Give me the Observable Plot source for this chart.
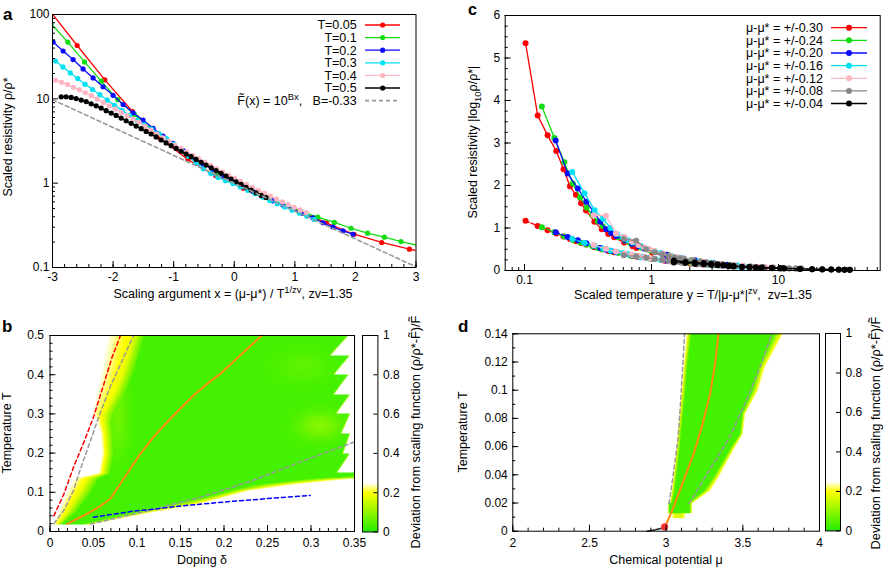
<!DOCTYPE html>
<html><head><meta charset="utf-8">
<script src="https://cdn.jsdelivr.net/npm/d3@7"></script>
<script src="https://cdn.jsdelivr.net/npm/@observablehq/plot@0.6"></script>
<style>
html,body{margin:0;padding:0;background:#fff;}
#fig{position:relative;width:886px;height:569px;overflow:hidden;background:#fff;}
</style></head>
<body><div id="fig"></div>
<script>
// ---------------- Panel a data: rho/rho* vs scaling argument x ----------------
const aX005 = [-3.05,-2.593,-2.136,-1.679,-1.222,-0.765,-0.308,0.149,0.606,1.063,1.52,1.977,2.434,2.891,3.348];
const aY005 = [112,42.9,16.8,7.08,3.39,1.91,1.23,0.871,0.631,0.473,0.339,0.248,0.198,0.165,0.141];
const aX01 = [-3.022,-2.747,-2.472,-2.197,-1.922,-1.647,-1.372,-1.097,-0.822,-0.547,-0.272,0.003,0.278,0.553,0.828,1.103,1.378,1.653,1.928,2.203,2.478,2.753,3.028];
const aY01 = [77.6,47.1,27.4,16.2,9.77,6.53,4.47,3.16,2.34,1.78,1.35,1.05,0.832,0.668,0.55,0.462,0.395,0.342,0.292,0.255,0.229,0.203,0.183];
const aX02 = [-2.99,-2.825,-2.66,-2.495,-2.33,-2.165,-2.0,-1.835,-1.67,-1.505,-1.34,-1.175,-1.01,-0.845,-0.68,-0.515,-0.35,-0.185,-0.02,0.145,0.31,0.475,0.64,0.805,0.97,1.135,1.3,1.465,1.63,1.795,1.96];
const aY02 = [47.1,36.9,29.2,22.6,17.7,13.9,11.0,8.57,6.84,5.60,4.47,3.62,2.96,2.43,2.03,1.69,1.45,1.23,1.05,0.912,0.794,0.692,0.617,0.55,0.49,0.437,0.389,0.339,0.302,0.272,0.248];
const aX03 = [-2.95,-2.828,-2.706,-2.584,-2.462,-2.34,-2.218,-2.096,-1.974,-1.852,-1.73,-1.608,-1.486,-1.364,-1.242,-1.12,-0.998,-0.876,-0.754,-0.632,-0.51,-0.388,-0.266,-0.144,-0.022,0.1,0.222,0.344,0.466,0.588,0.71,0.832,0.954,1.076,1.198,1.32];
const aY03 = [28.1,23.9,20.3,17.4,14.9,12.9,11.2,9.66,8.36,7.29,6.37,5.61,4.93,4.39,3.87,3.37,2.90,2.45,2.07,1.74,1.48,1.30,1.17,1.07,0.989,0.902,0.822,0.750,0.684,0.624,0.571,0.522,0.479,0.440,0.405,0.372];
const aX04 = [-2.95,-2.852,-2.753,-2.655,-2.556,-2.458,-2.359,-2.261,-2.162,-2.064,-1.965,-1.867,-1.768,-1.67,-1.571,-1.473,-1.374,-1.276,-1.177,-1.079,-0.98,-0.882,-0.783,-0.685,-0.586,-0.488,-0.389,-0.291,-0.192,-0.094,0.005,0.104,0.202,0.301,0.399,0.498,0.596,0.695,0.793,0.892,0.99,1.089,1.187];
const aY04 = [16.6,15.7,14.8,13.7,12.8,11.8,10.9,9.91,9.06,8.28,7.55,6.90,6.31,5.75,5.26,4.72,4.25,3.82,3.44,3.12,2.83,2.58,2.34,2.14,1.95,1.78,1.63,1.49,1.36,1.25,1.15,1.05,0.968,0.891,0.822,0.759,0.702,0.649,0.601,0.557,0.518,0.481,0.448];
const aX05 = [-2.857,-2.775,-2.692,-2.61,-2.527,-2.445,-2.362,-2.28,-2.197,-2.115,-2.032,-1.95,-1.867,-1.785,-1.702,-1.62,-1.537,-1.455,-1.372,-1.29,-1.207,-1.125,-1.042,-0.96,-0.877,-0.795,-0.712,-0.63,-0.547,-0.465,-0.382,-0.3,-0.217,-0.135,-0.052,0.03,0.113,0.195,0.278,0.36,0.443,0.525];
const aY05 = [10.57,10.57,10.40,10.07,9.66,9.27,8.73,8.26,7.76,7.23,6.78,6.35,5.92,5.50,5.12,4.75,4.43,4.11,3.83,3.53,3.25,3.0,2.78,2.58,2.39,2.21,2.06,1.91,1.77,1.64,1.52,1.41,1.31,1.21,1.12,1.04,0.966,0.895,0.83,0.77,0.715,0.676];
const aFitX = [-3, 3];          // F~(x) = 10^(Bx), B = -0.33
const aFitY = [9.77, 0.102];
const aNames = ["T=0.05","T=0.1","T=0.2","T=0.3","T=0.4","T=0.5"];

// ---------------- Panel c data: |log10 rho/rho*| vs scaled temperature y ----------------
const cNames = ["μ-μ* = +/-0.30","μ-μ* = +/-0.24","μ-μ* = +/-0.20","μ-μ* = +/-0.16","μ-μ* = +/-0.12","μ-μ* = +/-0.08","μ-μ* = +/-0.04"];
const cX030 = [0.102,0.127,0.152,0.178,0.203,0.228,0.254,0.279,0.305,0.355,0.406,0.457,0.508,0.609,0.711,0.761,1.015,1.269,1.523,1.777,2.03,2.284,2.538];
const cUp030 = [5.35,3.65,3.18,2.81,2.38,1.98,1.78,1.58,1.41,1.15,0.97,0.86,0.78,0.66,0.57,0.53,0.42,0.34,0.29,0.25,0.22,0.2,0.18];
const cLo030 = [1.17,1.05,0.95,0.87,0.8,0.74,0.69,0.65,0.61,0.55,0.5,0.46,0.43,0.38,0.34,0.33,0.27,0.23,0.2,0.18,0.16,0.15,0.14];
const cX024 = [0.137,0.172,0.206,0.240,0.275,0.309,0.343,0.378,0.412,0.481,0.549,0.618,0.687,0.824,0.962,1.03,1.374,1.717,2.06,2.404,2.747,3.091,3.434];
const cUp024 = [3.86,3.12,2.55,2.05,1.72,1.48,1.3,1.16,1.05,0.89,0.78,0.7,0.63,0.54,0.48,0.45,0.36,0.29,0.25,0.21,0.19,0.17,0.155];
const cLo024 = [1.02,0.9,0.8,0.72,0.66,0.61,0.57,0.53,0.5,0.45,0.41,0.38,0.35,0.31,0.28,0.27,0.22,0.19,0.165,0.15,0.135,0.125,0.115];
const cX020 = [0.176,0.219,0.263,0.307,0.351,0.395,0.439,0.483,0.527,0.615,0.702,0.790,0.878,1.054,1.229,1.317,1.756,2.195,2.634,3.073,3.512,3.951,4.39];
const cUp020 = [3.06,2.28,1.93,1.62,1.38,1.15,0.97,0.88,0.81,0.71,0.63,0.57,0.52,0.45,0.39,0.37,0.29,0.24,0.2,0.17,0.15,0.135,0.12];
const cLo020 = [0.9,0.79,0.71,0.64,0.58,0.53,0.49,0.46,0.43,0.39,0.36,0.33,0.31,0.27,0.245,0.235,0.19,0.165,0.145,0.13,0.12,0.11,0.1];
const cX016 = [0.2375,0.297,0.356,0.416,0.475,0.534,0.594,0.653,0.713,0.831,0.950,1.069,1.188,1.425,1.663,1.781,2.375,2.969,3.563,4.157,4.751,5.344,5.938];
const cUp016 = [2.32,1.82,1.42,1.22,1.0,0.86,0.78,0.71,0.66,0.57,0.5,0.45,0.41,0.35,0.3,0.28,0.22,0.18,0.15,0.13,0.115,0.1,0.095];
const cLo016 = [0.75,0.65,0.58,0.52,0.47,0.44,0.41,0.38,0.36,0.32,0.29,0.27,0.25,0.22,0.2,0.19,0.155,0.13,0.115,0.1,0.09,0.085,0.08];
const cX012 = [0.350,0.438,0.525,0.613,0.700,0.788,0.876,0.963,1.051,1.226,1.401,1.576,1.751,2.102,2.452,2.627,3.503,4.378,5.254,6.130,7.005,7.881,8.757];
const cUp012 = [1.3,1.29,0.87,0.79,0.68,0.6,0.55,0.5,0.46,0.4,0.35,0.32,0.29,0.25,0.22,0.2,0.16,0.13,0.11,0.095,0.085,0.075,0.07];
const cLo012 = [0.6,0.51,0.45,0.4,0.37,0.34,0.31,0.29,0.27,0.245,0.22,0.2,0.185,0.165,0.145,0.14,0.115,0.1,0.085,0.075,0.07,0.065,0.06];
const cX008 = [0.606,0.758,0.909,1.061,1.212,1.364,1.515,1.667,1.818,2.121,2.424,2.727,3.03,3.636,4.242,4.545,6.061,7.576,9.091,10.61,12.12,13.64,15.15];
const cUp008 = [0.74,0.7,0.5,0.43,0.38,0.34,0.31,0.29,0.27,0.24,0.21,0.19,0.17,0.15,0.13,0.12,0.095,0.08,0.07,0.06,0.055,0.05,0.045];
const cLo008 = [0.36,0.33,0.3,0.27,0.25,0.23,0.21,0.2,0.19,0.17,0.155,0.14,0.13,0.115,0.1,0.095,0.08,0.07,0.06,0.055,0.05,0.045,0.04];
const cX004 = [1.5,1.85,2.2,2.58,2.95,3.32,3.69,4.06,4.43,5.16,5.9,6.64,7.37,8.85,10.3,11.05,14.7,18.4,22.1,26.0,29.8,33.1,36.4];
const cUp004 = [0.235,0.2,0.188,0.175,0.16,0.145,0.13,0.115,0.105,0.09,0.08,0.075,0.07,0.065,0.06,0.055,0.04,0.032,0.028,0.025,0.022,0.02,0.018];
const cLo004 = [0.19,0.175,0.16,0.148,0.135,0.125,0.115,0.105,0.095,0.085,0.075,0.068,0.062,0.055,0.05,0.048,0.035,0.03,0.026,0.022,0.02,0.018,0.016];

// ---------------- Panel b data: deviation map over doping / temperature ----------------
// left edge of coloured region per temperature row: L0 (dev 0.25), Lm (dev 0.18), L1 (dev 0.05)
const bLT = [0.018,0.05,0.08,0.10,0.12,0.136,0.148,0.2,0.25,0.28,0.3,0.35,0.4,0.45,0.5];
const bL0 = [0.004,0.010,0.015,0.019,0.024,0.028,0.056,0.060,0.058,0.054,0.049,0.053,0.058,0.062,0.066];
const bLm = [0.009,0.020,0.028,0.034,0.040,0.044,0.061,0.065,0.064,0.062,0.062,0.074,0.083,0.090,0.096];
const bL1 = [0.013,0.030,0.040,0.047,0.052,0.056,0.069,0.073,0.072,0.071,0.074,0.086,0.095,0.102,0.108];
// right edge (dev 0.25), including the saw-tooth above T=0.15
const bR0T = [0.018,0.048,0.071,0.105,0.122,0.134,0.135,0.1499,0.1501,0.1999,0.2001,0.2499,0.2501,0.2999,0.3001,0.3499,0.3501,0.3999,0.4001,0.4499,0.4501,0.5];
const bR0D = [0.045,0.115,0.173,0.23,0.2875,0.344,0.37,0.37,0.330,0.345,0.337,0.345,0.335,0.345,0.329,0.345,0.3265,0.343,0.3265,0.345,0.3227,0.343];
// right edge of the green part (dev 0.05) below T=0.15
const bR1T = [0.018,0.02,0.058,0.085,0.118,0.133,0.14,0.141,0.1499];
const bR1D = [0.036,0.04,0.115,0.173,0.23,0.2875,0.344,0.37,0.37];
const bInner = 0.03;
// lighter (yellow-green) patches [delta, T, width delta, width T, extra deviation]
const bPatch = [[0.31,0.27,0.025,0.035,0.06],[0.078,0.29,0.012,0.1,0.04],[0.29,0.42,0.03,0.04,0.025]];
const bRedD = [0.0045,0.016,0.027,0.039,0.050,0.062,0.0714,0.081];
const bRedT = [0.04,0.096,0.164,0.228,0.292,0.377,0.445,0.5];
const bGrayLD = [0.0044,0.016,0.027,0.035,0.0445,0.056,0.069,0.083,0.096];
const bGrayLT = [0.02,0.054,0.105,0.16,0.219,0.292,0.368,0.436,0.5];
const bGrayRD = [0.0465,0.115,0.173,0.23,0.2875,0.3494,0.354];
const bGrayRT = [0.019,0.054,0.0875,0.1276,0.177,0.228,0.2305];
const bOrD = [0.0197,0.0388,0.056,0.0694,0.0809,0.0924,0.1038,0.119,0.1345,0.1497,0.165,0.1804,0.1956,0.22,0.2435];
const bOrT = [0.0196,0.0408,0.062,0.0834,0.1217,0.16,0.198,0.2406,0.2788,0.313,0.347,0.376,0.402,0.452,0.5];
const bBlueD = [0.05,0.096,0.1153,0.154,0.207,0.268,0.299];
const bBlueT = [0.0365,0.052,0.056,0.066,0.0765,0.087,0.092];

// ---------------- Panel d data: deviation map over chemical potential / temperature ----------------
const dT  = [0.009,0.0124,0.0126,0.0195,0.0206,0.0289,0.0395,0.050,0.0596,0.069,0.0833,0.0998,0.1163,0.14];
const dL0 = [3.035,3.035,3.012,3.012,3.024,3.036,3.047,3.058,3.067,3.073,3.086,3.099,3.112,3.132];
const dL1 = [3.06,3.06,3.02,3.02,3.04,3.056,3.069,3.08,3.09,3.099,3.112,3.127,3.138,3.167];
const dR1 = [3.10,3.10,3.152,3.152,3.15,3.245,3.31,3.37,3.42,3.48,3.493,3.558,3.60,3.70];
const dR0 = [3.125,3.125,3.17,3.17,3.18,3.29,3.35,3.40,3.45,3.50,3.515,3.60,3.645,3.765];
const dIn = [0.17,0.17,0.03,0.03,0.03,0.03,0.03,0.03,0.03,0.03,0.03,0.03,0.03,0.03];
const dOrM = [2.99,3.006,3.049,3.114,3.18,3.232,3.287,3.319,3.341];
const dOrT = [0.003,0.0064,0.0172,0.036,0.055,0.0738,0.0974,0.1187,0.14];
const dGrayLM = [3.019,3.05,3.078,3.095,3.108,3.12];
const dGrayLT = [0.0196,0.043,0.066,0.093,0.1165,0.14];
const dGrayRM = [3.15,3.28,3.41,3.525,3.613,3.689];
const dGrayRT = [0.0196,0.043,0.066,0.093,0.1165,0.14];
const dBlackM = [2.876,2.93,2.984];
const dBlackT = [0.0,0.001,0.0024];
const dPointM = [2.99], dPointT = [0.003];

// colour bar ticks
const cbTicks = [0,0.2,0.4,0.6,0.8,1];

// ---------------- helpers ----------------
const FONT = '"Liberation Sans", Arial, Helvetica, sans-serif';
const fig = document.getElementById("fig");
const COL = {red:"#ff0000", green:"#11dd11", blue:"#0a0aff", cyan:"#00e1f5", pink:"#ffb6c1", black:"#000000", gray:"#888888", dash:"#999999", orange:"#ff8a10"};
const aColors = [COL.red, COL.green, COL.blue, COL.cyan, COL.pink, COL.black];
const cColors = [COL.red, COL.green, COL.blue, COL.cyan, COL.pink, COL.gray, COL.black];
function place(node, left, top){ node.style.position="absolute"; node.style.left=left+"px"; node.style.top=top+"px"; fig.appendChild(node); }
function zip(xs, ys){ return xs.map((x,i)=>[x, ys[i]]); }
function interp(xs, ys, x){ const n=xs.length; if (x<=xs[0]) return ys[0]; if (x>=xs[n-1]) return ys[n-1]; let i=1; while (xs[i]<x) i++; const t=(x-xs[i-1])/(xs[i]-xs[i-1]); return ys[i-1]+t*(ys[i]-ys[i-1]); }
const pStyle = {fontFamily: FONT, fontSize: "12px", background: "transparent", overflow: "visible", color: "#000"};
const colorScale = {type:"linear", domain:[0,0.2,0.25,1], range:["#22ee00","#ffff00","#ffffff","#ffffff"], interpolate:"rgb", clamp:true};

function valB(d, T){
  if (T < 0.017 || T > 0.5) return 1;
  const L0 = interp(bLT,bL0,T), Lm = interp(bLT,bLm,T), L1 = interp(bLT,bL1,T);
  const R0 = interp(bR0T,bR0D,T);
  const R1 = T > 0.15 ? R0 - 0.001 : Math.min(interp(bR1T,bR1D,T), R0 - 0.001);
  if (d < L0 || d > R0) return 1;
  if (d < Lm) return 0.25 - 0.07*(d-L0)/(Lm-L0);
  if (d < L1) return 0.18 - 0.13*(d-Lm)/(L1-Lm);
  let v = bInner;
  for (const [pc,tc,sd,st,amp] of bPatch) {
    const u = (d-pc)/sd, w = (T-tc)/st;
    v += amp*Math.exp(-(u*u) - (w*w));
  }
  if (d > R1) v = v + (0.25 - v)*(d-R1)/(R0-R1);
  return v;
}
function valD(m, T){
  if (T < dT[0] || T > 0.14) return 1;
  const L0 = interp(dT,dL0,T), L1 = interp(dT,dL1,T), R1 = interp(dT,dR1,T), R0 = interp(dT,dR0,T), vin = interp(dT,dIn,T);
  if (m < L0 || m > R0) return 1;
  if (m < L1) return 0.25 - (0.25-vin)*(m-L0)/(L1-L0);
  if (m > R1) return vin + (0.25-vin)*(m-R1)/(R0-R1);
  return vin;
}

// ---------------- Panel a ----------------
{
  const ml=52, mr=14.5, mt=14, mb=33, w=430, h=300, fw=w-ml-mr, fh=h-mt-mb;
  const series = [[aX005,aY005],[aX01,aY01],[aX02,aY02],[aX03,aY03],[aX04,aY04],[aX05,aY05]];
  const yMinor = [0.2,0.3,0.4,0.5,0.6,0.7,0.8,0.9,2,3,4,5,6,7,8,9,20,30,40,50,60,70,80,90];
  const marks = [];
  series.forEach(([xs,ys],i)=>{
    marks.push(Plot.line(zip(xs,ys), {stroke:aColors[i], strokeWidth:1.3, clip:true}));
    marks.push(Plot.dot(zip(xs,ys), {fill:aColors[i], r:2.6, clip:true}));
  });
  marks.push(Plot.line(zip(aFitX,aFitY), {stroke:COL.dash, strokeWidth:1.6, strokeDasharray:"4,3"}));
  marks.push(Plot.tickX(d3.range(-3,3.001,0.2).map(v=>+v.toFixed(1)), {insetTop:fh-3, stroke:"#000"}));
  marks.push(Plot.tickX([-3,-2,-1,0,1,2,3], {insetTop:fh-6, stroke:"#000"}));
  marks.push(Plot.tickY(yMinor, {insetRight:fw-3, stroke:"#000"}));
  marks.push(Plot.tickY([0.1,1,10,100], {insetRight:fw-6, stroke:"#000"}));
  marks.push(Plot.axisX({ticks:[-3,-2,-1,0,1,2,3], tickSize:0, tickPadding:5, tickFormat:d=>String(d), label:null}));
  marks.push(Plot.axisY({ticks:[0.1,1,10,100], tickSize:0, tickPadding:3, tickFormat:d=>String(d), label:null}));
  marks.push(Plot.frame({stroke:"#000"}));
  const p = Plot.plot({width:w, height:h, marginLeft:ml, marginRight:mr, marginTop:mt, marginBottom:mb, style:pStyle,
    x:{domain:[-3,3]}, y:{type:"log", domain:[0.1,100]}, marks});
  place(p, 0, 0);
}

// ---------------- Panel c ----------------
{
  const ml=61.7, mr=6.3, mt=15, mb=30, w=443, h=300, fw=w-ml-mr, fh=h-mt-mb;
  const series = [[cX030,cUp030,cLo030],[cX024,cUp024,cLo024],[cX020,cUp020,cLo020],[cX016,cUp016,cLo016],[cX012,cUp012,cLo012],[cX008,cUp008,cLo008],[cX004,cUp004,cLo004]];
  const xMinor = [0.08,0.09,0.2,0.3,0.4,0.5,0.6,0.7,0.8,0.9,2,3,4,5,6,7,8,9,20,30,40,50,60];
  const marks = [];
  series.forEach(([xs,up,lo],i)=>{
    marks.push(Plot.line(zip(xs,lo), {stroke:cColors[i], strokeWidth:1.3, strokeDasharray:"4,2"}));
    marks.push(Plot.dot(zip(xs,lo), {fill:cColors[i], r:3}));
    marks.push(Plot.line(zip(xs,up), {stroke:cColors[i], strokeWidth:1.3}));
    marks.push(Plot.dot(zip(xs,up), {fill:cColors[i], r:3}));
  });
  marks.push(Plot.tickX(xMinor, {insetTop:fh-3, stroke:"#000"}));
  marks.push(Plot.tickX([0.1,1,10], {insetTop:fh-6, stroke:"#000"}));
  marks.push(Plot.tickY(d3.range(0,6.001,0.25), {insetRight:fw-3, stroke:"#000"}));
  marks.push(Plot.tickY([0,1,2,3,4,5,6], {insetRight:fw-6, stroke:"#000"}));
  marks.push(Plot.axisX({ticks:[0.1,1,10], tickSize:0, tickPadding:5, tickFormat:d=>String(d), label:null}));
  marks.push(Plot.axisY({ticks:[0,1,2,3,4,5,6], tickSize:0, tickPadding:5, tickFormat:d=>String(d), label:null}));
  marks.push(Plot.frame({stroke:"#000"}));
  const p = Plot.plot({width:w, height:h, marginLeft:ml, marginRight:mr, marginTop:mt, marginBottom:mb, style:pStyle,
    x:{type:"log", domain:[0.0705,63.2]}, y:{domain:[0,6]}, marks});
  place(p, 443, 0);
}

// ---------------- colour bar ----------------
function colorbar(left, top, fw, fh){
  const mr=34, mt=6, mb=8;
  const p = Plot.plot({width:fw+mr, height:fh+mt+mb, marginLeft:0, marginRight:mr, marginTop:mt, marginBottom:mb, style:pStyle,
    x:{domain:[0,1], axis:null}, y:{domain:[0,1]}, color:colorScale,
    marks:[
      Plot.raster({fill:(x,y)=>y, x1:0, x2:1, y1:0, y2:1}),
      Plot.tickY(cbTicks, {insetLeft:fw-4, stroke:"#000"}),
      Plot.axisY({anchor:"right", ticks:cbTicks, tickSize:0, tickPadding:5, tickFormat:d=>String(d), label:null}),
      Plot.frame({stroke:"#000"})
    ]});
  place(p, left, top-mt);
}

// ---------------- Panel b ----------------
{
  const ml=49.5, mr=89, mt=35, mb=38, w=443, h=269, fw=w-ml-mr, fh=h-mt-mb;
  const dash = {strokeWidth:1.5, strokeDasharray:"4,3"};
  const p = Plot.plot({width:w, height:h, marginLeft:ml, marginRight:mr, marginTop:mt, marginBottom:mb, style:pStyle,
    x:{domain:[0,0.35]}, y:{domain:[0,0.5]}, color:colorScale,
    marks:[
      Plot.raster({fill:valB, x1:0, x2:0.35, y1:0, y2:0.5}),
      Plot.line(zip(bGrayLD,bGrayLT), {stroke:COL.dash, ...dash}),
      Plot.line(zip(bGrayRD,bGrayRT), {stroke:COL.dash, ...dash, clip:true}),
      Plot.line(zip(bRedD,bRedT), {stroke:"#ff0000", ...dash}),
      Plot.line(zip(bBlueD,bBlueT), {stroke:"#0000ff", ...dash}),
      Plot.line(zip(bOrD,bOrT), {stroke:COL.orange, strokeWidth:2}),
      Plot.tickX(d3.range(0,0.3501,0.01).map(v=>+v.toFixed(2)), {insetTop:fh-3, stroke:"#000"}),
      Plot.tickX([0,0.05,0.1,0.15,0.2,0.25,0.3,0.35], {insetTop:fh-6, stroke:"#000"}),
      Plot.tickY(d3.range(0,0.5001,0.02).map(v=>+v.toFixed(2)), {insetRight:fw-3, stroke:"#000"}),
      Plot.tickY([0,0.1,0.2,0.3,0.4,0.5], {insetRight:fw-6, stroke:"#000"}),
      Plot.axisX({ticks:[0,0.05,0.1,0.15,0.2,0.25,0.3,0.35], tickSize:0, tickPadding:7, tickFormat:d=>String(d), label:null}),
      Plot.axisY({ticks:[0,0.1,0.2,0.3,0.4,0.5], tickSize:0, tickPadding:6, tickFormat:d=>String(d), label:null}),
      Plot.frame({stroke:"#000"})
    ]});
  place(p, 0, 300);
  colorbar(362.3, 335, 15.4, 196.5);
}

// ---------------- Panel d ----------------
{
  const ml=69.3, mr=67, mt=33.3, mb=38.3, w=443, h=269, fw=w-ml-mr, fh=h-mt-mb;
  const dash = {strokeWidth:1.5, strokeDasharray:"4,3"};
  const p = Plot.plot({width:w, height:h, marginLeft:ml, marginRight:mr, marginTop:mt, marginBottom:mb, style:pStyle,
    x:{domain:[2,4]}, y:{domain:[0,0.14]}, color:colorScale,
    marks:[
      Plot.raster({fill:valD, x1:2, x2:4, y1:0, y2:0.14}),
      Plot.line(zip(dGrayLM,dGrayLT), {stroke:COL.dash, ...dash}),
      Plot.line(zip(dGrayRM,dGrayRT), {stroke:COL.dash, ...dash}),
      Plot.line(zip(dBlackM,dBlackT), {stroke:"#222", strokeWidth:1.6}),
      Plot.line(zip(dOrM,dOrT), {stroke:COL.orange, strokeWidth:2}),
      Plot.dot(zip(dPointM,dPointT), {fill:"#ff3333", r:3.6}),
      Plot.tickX(d3.range(2,4.001,0.1).map(v=>+v.toFixed(1)), {insetTop:fh-3, stroke:"#000"}),
      Plot.tickX([2,2.5,3,3.5,4], {insetTop:fh-6, stroke:"#000"}),
      Plot.tickY(d3.range(0,0.1401,0.01).map(v=>+v.toFixed(2)), {insetRight:fw-3, stroke:"#000"}),
      Plot.tickY([0,0.02,0.04,0.06,0.08,0.1,0.12,0.14], {insetRight:fw-6, stroke:"#000"}),
      Plot.axisX({ticks:[2,2.5,3,3.5,4], tickSize:0, tickPadding:7, tickFormat:d=>String(d), label:null}),
      Plot.axisY({ticks:[0,0.02,0.04,0.06,0.08,0.1,0.12,0.14], tickSize:0, tickPadding:5, tickFormat:d=>String(d), label:null}),
      Plot.frame({stroke:"#000"})
    ]});
  place(p, 443, 300);
  colorbar(825.3, 333.3, 15, 197.4);
}

// ---------------- overlay: titles, labels, legends ----------------
const ov = d3.create("svg").attr("width",886).attr("height",569)
  .style("position","absolute").style("left","0px").style("top","0px").style("pointer-events","none")
  .style("font-family",FONT).style("overflow","visible");
function text(parts, x, y, o={}){
  const size = o.size || 12;
  const t = ov.append("text").attr("x",x).attr("y",y).attr("font-size",size)
    .attr("text-anchor",o.anchor||"start").attr("fill","#000").style("white-space","pre");
  if (o.weight) t.attr("font-weight",o.weight);
  if (o.rotate) t.attr("transform",`rotate(${o.rotate},${x},${y})`);
  let shift = 0;
  for (const p of parts){
    const [s,k] = Array.isArray(p) ? p : [p];
    const target = k==="sup" ? -0.4*size : k==="sub" ? 0.3*size : 0;
    const ts = t.append("tspan").text(s).attr("dy", target-shift);
    if (k) ts.attr("font-size", size*0.75);
    shift = target;
  }
}
// panel letters
text(["a"], 3, 20, {size:17, weight:"bold"});
text(["c"], 468, 15, {size:16, weight:"bold"});
text(["b"], 2, 332, {size:17, weight:"bold"});
text(["d"], 458, 332, {size:17, weight:"bold"});
// axis titles
text(["Scaled resistivity ρ/ρ*"], 12, 137, {anchor:"middle", rotate:-90, size:12.5});
text(["Scaling argument x = (μ-μ*) / T",["1/zv","sup"],", zv=1.35"], 233, 298, {anchor:"middle", size:12.5});
text(["Scaled resistivity |log",["10","sub"],"ρ/ρ*|"], 477, 142, {anchor:"middle", rotate:-90, size:12.5});
text(["Scaled temperature y = T/|μ-μ*|",["zv","sup"],",  zv=1.35"], 693, 299, {anchor:"middle", size:12.5});
text(["Temperature T"], 11, 433, {anchor:"middle", rotate:-90, size:12.5});
text(["Doping δ"], 202, 564, {anchor:"middle", size:12.5});
text(["Deviation from scaling function (ρ/ρ*-F\u0303)/F\u0303"], 420, 432, {anchor:"middle", rotate:-90, size:12.8});
text(["Temperature T"], 467, 432, {anchor:"middle", rotate:-90, size:12.5});
text(["Chemical potential μ"], 666, 564, {anchor:"middle", size:12.5});
text(["Deviation from scaling function (ρ/ρ*-F\u0303)/F\u0303"], 880, 433, {anchor:"middle", rotate:-90, size:12.8});
// legend a
const aRows = [25,37.6,50.2,62.8,75.4,88];
aNames.forEach((n,i)=>{
  const y = aRows[i];
  text([n], 356.7, y+4.3, {anchor:"end", size:12.5});
  ov.append("line").attr("x1",365).attr("x2",400).attr("y1",y).attr("y2",y).attr("stroke",aColors[i]).attr("stroke-width",1.3);
  ov.append("circle").attr("cx",382.7).attr("cy",y).attr("r",2.6).attr("fill",aColors[i]);
});
text(["F\u0303(x) = 10",["Bx","sup"],",   B=-0.33"], 356.7, 100.6+4.3, {anchor:"end", size:12.5});
ov.append("line").attr("x1",365).attr("x2",400).attr("y1",100.6).attr("y2",100.6).attr("stroke",COL.dash).attr("stroke-width",1.6).attr("stroke-dasharray","4,3");
// legend c
const cRows = [27.7,40.3,53,65.7,78.3,90.9,103.5];
cNames.forEach((n,i)=>{
  const y = cRows[i];
  text([n], 823, y+4.3, {anchor:"end", size:12.5});
  ov.append("line").attr("x1",831).attr("x2",867).attr("y1",y).attr("y2",y).attr("stroke",cColors[i]).attr("stroke-width",1.3);
  ov.append("circle").attr("cx",849).attr("cy",y).attr("r",3).attr("fill",cColors[i]);
});
fig.appendChild(ov.node());
</script>
</body></html>
